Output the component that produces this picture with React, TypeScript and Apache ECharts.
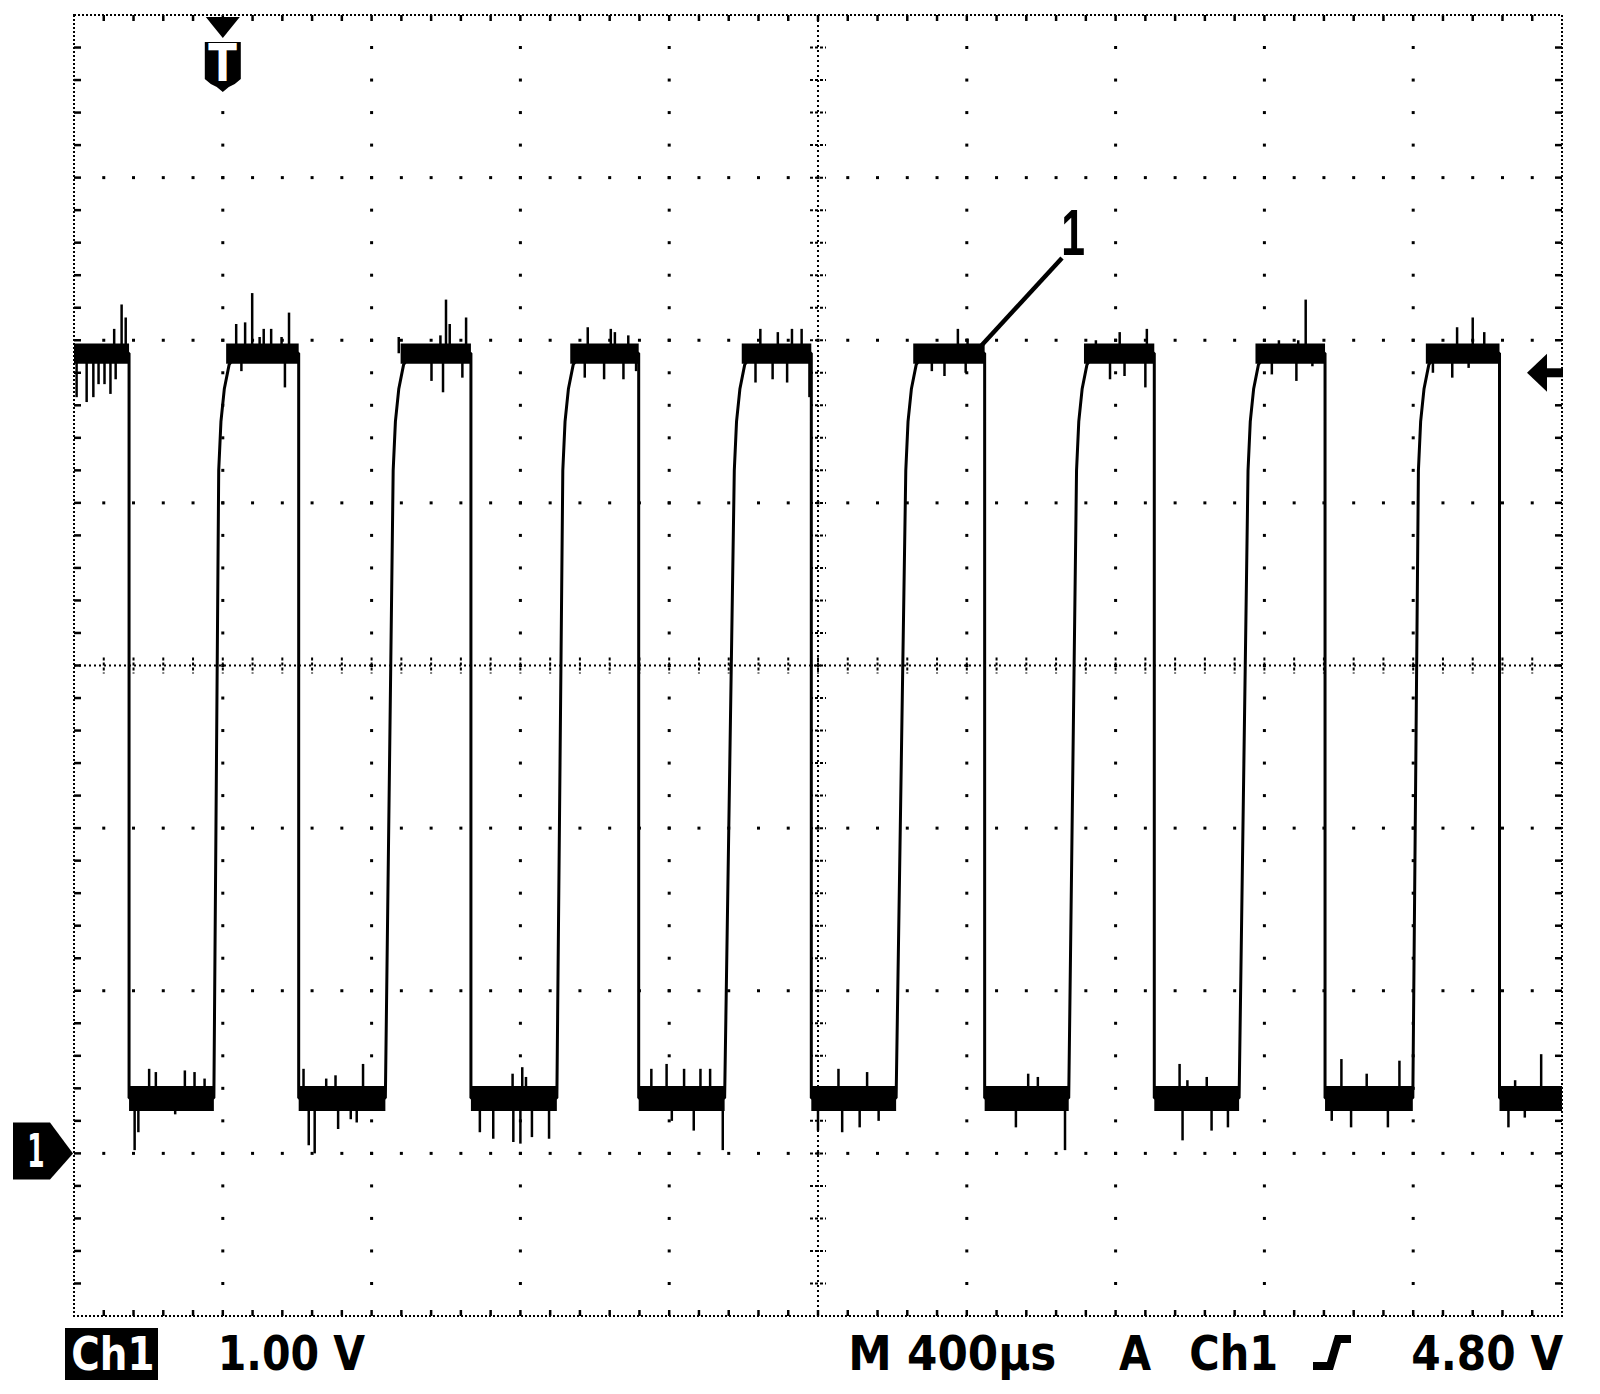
import React, { useEffect, useRef } from 'react';
import * as echarts from 'echarts';

// ---- axes (oscilloscope screen: 10 x 400 µs, 8 x 1.00 V) ----
const T_MIN = 0;
const T_MAX = 4000;
const T_DIV = 400;
const V_MIN = -1;
const V_MAX = 7;
const V_DIV = 1;

// ---- levels ----
const HIGH = 4.92;
const LOW = 0.34;
const HIGH_BAND = [4.855, 4.98];
const LOW_BAND = [0.26, 0.415];
const KNEE_V = 4.2;
const TRIGGER_T = 400;
const TRIGGER_V = 4.8;
const GROUND_V = 0;

// ---- edge times (µs from left edge of screen) ----
const FALL_T = [148, 604, 1067, 1518, 1982, 2448, 2904, 3363, 3832];
const RISE_START_T = [376, 837, 1298, 1749, 2210, 2674, 3132, 3599];
const KNEE_T = [389, 858, 1314, 1775, 2236, 2695, 3156, 3614];
// rounding of the top of each rising edge: [µs after knee, V]
const RISE_SHAPE = [
  [6, 4.5],
  [15, 4.7],
  [28, 4.85],
  [48, 4.92],
];

// ---- noise spikes [µs, tip V] ----
const HIGH_SPIKES = [
  [7, 4.65], [34, 4.62], [52, 4.65], [66, 4.73], [82, 4.73], [98, 4.67], [112, 4.76], [108, 5.07], [128, 5.22], [139, 5.14],
  [436, 5.1], [460, 5.11], [479, 5.29], [499, 5.02], [510, 5.07], [530, 5.07], [558, 5.02], [578, 5.17], [450, 4.81], [567, 4.71],
  [873, 5.02], [985, 5.03], [1000, 5.25], [1010, 5.1], [1054, 5.14], [961, 4.75], [992, 4.68], [1044, 4.77],
  [1381, 5.08], [1443, 5.07], [1454, 5.05], [1490, 5.03], [1373, 4.77], [1425, 4.76], [1477, 4.76], [1511, 4.81],
  [1845, 5.07], [1892, 5.05], [1930, 5.07], [1956, 5.07], [1832, 4.74], [1878, 4.76], [1917, 4.74], [1977, 4.65],
  [2376, 5.07], [2402, 5.01], [2306, 4.81], [2340, 4.78], [2397, 4.8],
  [2747, 5.0], [2811, 5.05], [2884, 5.07], [2785, 4.76], [2824, 4.78], [2880, 4.71],
  [3239, 5.0], [3291, 5.0], [3311, 5.25], [3220, 4.79], [3286, 4.75], [3329, 4.84],
  [3718, 5.08], [3760, 5.14], [3791, 5.05], [3653, 4.8], [3705, 4.77], [3749, 4.83],
];
const LOW_SPIKES = [
  [202, 0.52], [220, 0.5], [298, 0.51], [324, 0.5], [351, 0.46], [163, 0.02], [173, 0.13], [272, 0.24],
  [617, 0.52], [678, 0.46], [703, 0.48], [777, 0.55], [631, 0.05], [647, 0.0], [710, 0.15], [744, 0.21], [760, 0.19],
  [1179, 0.49], [1205, 0.53], [1215, 0.47], [1091, 0.13], [1127, 0.09], [1181, 0.07], [1200, 0.06], [1231, 0.1], [1277, 0.09],
  [1552, 0.52], [1593, 0.55], [1640, 0.52], [1684, 0.52], [1710, 0.52], [1607, 0.2], [1666, 0.14], [1744, 0.02],
  [2055, 0.52], [2132, 0.5], [2000, 0.14], [2065, 0.13], [2112, 0.16], [2163, 0.2],
  [2565, 0.49], [2591, 0.47], [2532, 0.16], [2664, 0.02],
  [2972, 0.55], [2993, 0.45], [3045, 0.47], [2980, 0.08], [3058, 0.14], [3102, 0.16],
  [3407, 0.58], [3475, 0.49], [3563, 0.57], [3381, 0.2], [3433, 0.16], [3532, 0.16],
  [3944, 0.61], [3874, 0.45], [3856, 0.16], [3900, 0.22],
];

// ---- readout texts ----
const CH_LABEL = 'Ch1';
const VOLTS_LABEL = '1.00 V';
const TIME_LABEL = 'M 400µs';
const TRIG_MODE_LABEL = 'A';
const TRIG_SRC_LABEL = 'Ch1';
const TRIG_LEVEL_LABEL = '4.80 V';
const TRACE_LABEL = '1';
const GROUND_LABEL = '1';
const TRIGGER_LABEL = 'T';

function buildTrace(): number[][] {
  const pts: number[][] = [[T_MIN, HIGH]];
  FALL_T.forEach((f, i) => {
    pts.push([f, HIGH], [f, LOW]);
    if (i < RISE_START_T.length) {
      pts.push([RISE_START_T[i], LOW], [KNEE_T[i], KNEE_V]);
      RISE_SHAPE.forEach(([dt, v]) => pts.push([KNEE_T[i] + dt, v]));
    }
  });
  pts.push([T_MAX, LOW]);
  return pts;
}

function buildBands(): number[][] {
  const b: number[][] = [[T_MIN, FALL_T[0], HIGH_BAND[0], HIGH_BAND[1]]];
  KNEE_T.forEach((k, i) => b.push([k + 20, FALL_T[i + 1], HIGH_BAND[0], HIGH_BAND[1]]));
  FALL_T.forEach((f, i) => {
    const end = i < RISE_START_T.length ? RISE_START_T[i] : T_MAX;
    b.push([f, end, LOW_BAND[0], LOW_BAND[1]]);
  });
  return b;
}

function renderGraticule(_p: any, api: any) {
  const c = (t: number, v: number) => api.coord([t, v]);
  const ch: any[] = [];
  const [x0, y1] = c(T_MIN, V_MIN);
  const [x1, y0] = c(T_MAX, V_MAX);
  const mT = T_DIV / 5;
  const mV = V_DIV / 5;
  const nT = Math.round((T_MAX - T_MIN) / mT);
  const nV = Math.round((V_MAX - V_MIN) / mV);
  const tc = (T_MIN + T_MAX) / 2;
  const vc = V_MIN + 4 * V_DIV;
  const [xc, yc] = c(tc, vc);
  const dot = (x: number, y: number) => ({
    type: 'rect',
    shape: { x: x - 1.5, y: y - 1.5, width: 3, height: 3 },
    style: { fill: '#000' },
  });
  const seg = (xa: number, ya: number, xb: number, yb: number, w = 2.5, dash?: number[]) => ({
    type: 'line',
    shape: { x1: xa, y1: ya, x2: xb, y2: yb },
    style: { stroke: '#000', lineWidth: w, lineDash: dash },
  });
  // major vertical lines (dotted)
  for (let i = 1; i < 10; i++) {
    const t = T_MIN + i * T_DIV;
    if (t === tc) continue;
    const x = c(t, 0)[0];
    for (let j = 1; j < nV; j++) ch.push(dot(x, c(t, V_MIN + j * mV)[1]));
  }
  // major horizontal lines (dotted)
  for (let k = 1; k < 8; k++) {
    const v = V_MIN + k * V_DIV;
    if (v === vc) continue;
    const y = c(0, v)[1];
    for (let j = 1; j < nT; j++) ch.push(dot(c(T_MIN + j * mT, v)[0], y));
  }
  // centre lines with ticks
  ch.push(seg(xc, y0, xc, y1, 2, [2, 3]));
  ch.push(seg(x0, yc, x1, yc, 2, [2, 3]));
  for (let j = 1; j < nV; j++) {
    const y = c(tc, V_MIN + j * mV)[1];
    ch.push(seg(xc - 8, y, xc + 8, y, 2, [3, 2]));
  }
  for (let j = 1; j < nT; j++) {
    const x = c(T_MIN + j * mT, vc)[0];
    ch.push(seg(x, yc - 8, x, yc + 8, 2, [3, 2]));
  }
  // frame
  ch.push({
    type: 'rect',
    shape: { x: x0, y: y0, width: x1 - x0, height: y1 - y0 },
    style: { fill: 'none', stroke: '#000', lineWidth: 2, lineDash: [2, 2] },
  });
  for (let j = 1; j < nV; j++) {
    const y = c(0, V_MIN + j * mV)[1];
    ch.push(seg(x0, y, x0 + 7, y, 2.5));
    ch.push(seg(x1 - 7, y, x1, y, 2.5));
  }
  for (let j = 1; j < nT; j++) {
    const x = c(T_MIN + j * mT, 0)[0];
    ch.push(seg(x, y0, x, y0 + 6, 2.5));
    ch.push(seg(x, y1 - 6, x, y1, 2.5));
  }
  return { type: 'group', children: ch };
}

const measureCanvas = typeof document !== 'undefined' ? document.createElement('canvas') : null;

function fitText(text: string, family: string, size: number, left: number, right: number, cy: number, color: string) {
  const ctx = measureCanvas!.getContext('2d')!;
  ctx.font = `bold ${size}px "${family}"`;
  const m = ctx.measureText(text);
  const ink = (m.actualBoundingBoxLeft || 0) + (m.actualBoundingBoxRight || m.width);
  const s = (right - left) / (ink || 1);
  return {
    type: 'text',
    x: left + (m.actualBoundingBoxLeft || 0) * s,
    y: cy,
    scaleX: s,
    z: 20,
    style: {
      text,
      fill: color,
      fontSize: size,
      fontFamily: family,
      fontWeight: 'bold',
      align: 'left',
      verticalAlign: 'middle',
    },
  };
}

export default function App() {
  const ref = useRef<HTMLDivElement>(null);
  useEffect(() => {
    const chart = echarts.init(ref.current!, null, { renderer: 'svg' });
    const spikeRender = (base: number) => (_p: any, api: any) => {
      const a = api.coord([api.value(0), base]);
      const b = api.coord([api.value(0), api.value(1)]);
      return {
        type: 'line',
        shape: { x1: a[0], y1: a[1], x2: b[0], y2: b[1] },
        style: { stroke: '#000', lineWidth: 2.5 },
      };
    };
    chart.setOption({
      animation: false,
      backgroundColor: '#ffffff',
      grid: { left: 74, top: 15, width: 1488, height: 1301 },
      xAxis: { type: 'value', min: T_MIN, max: T_MAX, interval: T_DIV, show: false },
      yAxis: { type: 'value', min: V_MIN, max: V_MAX, interval: V_DIV, show: false },
      series: [
        { type: 'custom', renderItem: renderGraticule, data: [[T_MIN, V_MIN]], silent: true, z: 1, clip: false },
        {
          type: 'custom',
          data: buildBands(),
          silent: true,
          z: 3,
          renderItem: (_p: any, api: any) => {
            const p0 = api.coord([api.value(0), api.value(3)]);
            const p1 = api.coord([api.value(1), api.value(2)]);
            return {
              type: 'rect',
              shape: { x: p0[0], y: p0[1], width: p1[0] - p0[0], height: p1[1] - p0[1] },
              style: { fill: '#000' },
            };
          },
        },
        { type: 'custom', data: HIGH_SPIKES, silent: true, z: 3, renderItem: spikeRender(HIGH) },
        { type: 'custom', data: LOW_SPIKES, silent: true, z: 3, renderItem: spikeRender(LOW) },
        {
          type: 'line',
          data: buildTrace(),
          showSymbol: false,
          symbol: 'none',
          silent: true,
          z: 4,
          lineStyle: { color: '#000', width: 3 },
        },
      ],
    });

    const px = (t: number, v: number) => chart.convertToPixel({ gridIndex: 0 }, [t, v]) as number[];
    const [tx, top] = px(TRIGGER_T, V_MAX);
    const [gx, gy] = px(T_MIN, GROUND_V);
    const [ax, ay] = px(T_MAX, TRIGGER_V);
    const g: any[] = [];
    // trigger position marker
    g.push({ type: 'polygon', z: 20, shape: { points: [[tx - 17, top + 2], [tx + 17, top + 2], [tx, top + 23]] }, style: { fill: '#000' } });
    g.push({
      type: 'polygon',
      z: 20,
      shape: {
        points: [
          [tx - 18, top + 27], [tx + 18, top + 27], [tx + 18, top + 64], [tx + 12, top + 69], [tx + 6, top + 72],
          [tx, top + 77], [tx - 6, top + 72], [tx - 12, top + 69], [tx - 18, top + 64],
        ],
      },
      style: { fill: '#000' },
    });
    g.push(fitText(TRIGGER_LABEL, 'DejaVu Sans', 52, tx - 14.5, tx + 14.5, top + 48, '#fff'));
    // ground marker
    g.push({
      type: 'polygon',
      z: 20,
      shape: { points: [[gx - 61, gy - 31], [gx - 24, gy - 31], [gx - 1, gy], [gx - 24, gy + 26], [gx - 61, gy + 26]] },
      style: { fill: '#000' },
    });
    g.push(fitText(GROUND_LABEL, 'DejaVu Sans', 46, gx - 44, gx - 31, gy - 2, '#fff'));
    // trigger level arrow
    g.push({ type: 'polygon', z: 20, shape: { points: [[ax - 35, ay], [ax - 15, ay - 19], [ax - 15, ay + 19]] }, style: { fill: '#000' } });
    g.push({ type: 'rect', z: 20, shape: { x: ax - 16, y: ay - 4.5, width: 17, height: 9 }, style: { fill: '#000' } });
    // trace label with leader
    g.push({ type: 'line', z: 20, shape: { x1: 981, y1: 346, x2: 1062, y2: 258 }, style: { stroke: '#000', lineWidth: 4.5 } });
    g.push(fitText(TRACE_LABEL, 'Liberation Sans', 64, 1064, 1084, 233, '#000'));
    // bottom readout
    g.push({ type: 'rect', z: 19, shape: { x: 65, y: 1328, width: 93, height: 52 }, style: { fill: '#000' } });
    g.push(fitText(CH_LABEL, 'DejaVu Sans', 46, 73, 152, 1354, '#fff'));
    g.push(fitText(VOLTS_LABEL, 'DejaVu Sans', 48, 222, 365, 1353.5, '#000'));
    g.push(fitText(TIME_LABEL, 'DejaVu Sans', 48, 852, 1055, 1353.5, '#000'));
    g.push(fitText(TRIG_MODE_LABEL, 'DejaVu Sans', 48, 1119, 1151, 1353.5, '#000'));
    g.push(fitText(TRIG_SRC_LABEL, 'DejaVu Sans', 48, 1191, 1276, 1353.5, '#000'));
    g.push({
      type: 'polyline',
      z: 20,
      shape: { points: [[1313, 1366], [1330, 1366], [1338, 1339], [1351, 1339]] },
      style: { stroke: '#000', lineWidth: 8, fill: 'none', lineJoin: 'miter' },
    });
    g.push(fitText(TRIG_LEVEL_LABEL, 'DejaVu Sans', 48, 1413, 1563, 1353.5, '#000'));
    chart.setOption({ graphic: g });
    return () => chart.dispose();
  }, []);
  return (
    <div
      ref={ref}
      style={{ position: 'absolute', left: 0, top: 0, width: 1600, height: 1394, background: '#fff' }}
    />
  );
}
